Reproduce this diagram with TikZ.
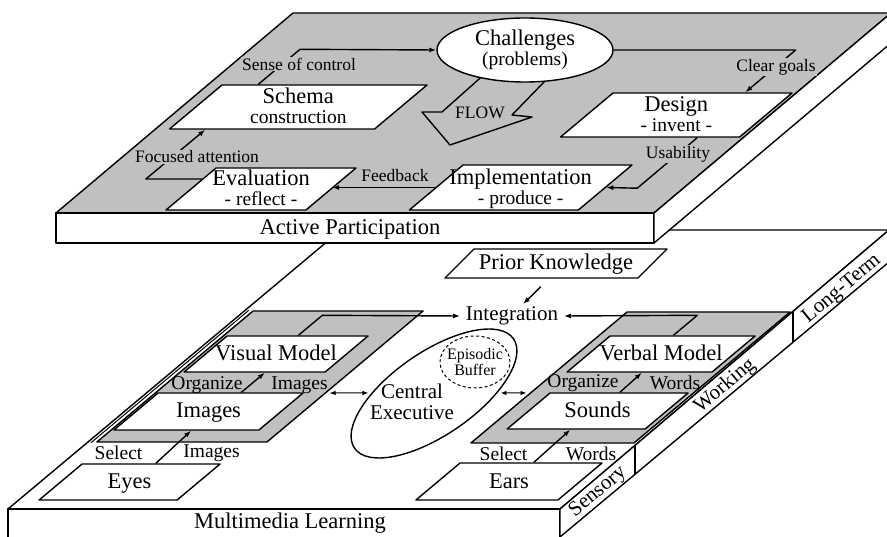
\documentclass[tikz,border=0pt]{standalone}
\usepackage{fontspec}
\setmainfont{Liberation Serif}
\usetikzlibrary{shapes.geometric,arrows.meta}

\definecolor{deck}{RGB}{192,192,192}
\newcommand\subline[1]{{\fontsize{19.5}{20}\selectfont #1}}
\newcommand\twoline[2]{\begin{tabular}[t]{@{}c@{}}#1\\\subline{#2}\end{tabular}}

\tikzset{
  bigtext/.style={font=\fontsize{22.5}{20}\selectfont},
  bodytext/.style={font=\fontsize{21}{21}\selectfont},
  midtext/.style={font=\fontsize{19.5}{20}\selectfont},
  smalltext/.style={font=\fontsize{17.5}{18}\selectfont},
  tinytext/.style={font=\fontsize{16}{16}\selectfont},
  plank/.style={trapezium, trapezium left angle=40, trapezium right angle=140,
    draw, fill=white, inner sep=0pt, bigtext},
  pane/.style={plank, fill=deck, text depth=0pt},
  link/.style={-{Latex[length=7pt,width=5pt]}},
  twoway/.style={{Latex[length=6pt,width=4.5pt]}-{Latex[length=6pt,width=4.5pt]},
    line width=1pt, shorten <=3pt, shorten >=3pt},
  onpane/.style={smalltext, fill=deck, inner sep=1pt},
  edgetext/.style={bodytext, rotate=40}
}

\begin{document}
\begin{tikzpicture}[x=1pt, y=-1pt, line width=1.4pt, line join=round]
  \useasboundingbox (0,0) rectangle (887,537);

  % lower platform
  \draw[fill=white] (8,509) -- (341,230) -- (889,230) -- (560,509) -- cycle;
  \draw[fill=white] (8,509) rectangle (560,538);
  \draw[fill=white] (560,509) -- (889,230) -- (889,262) -- (560,537) -- cycle;
  \draw (635,445.4) -- (635,474.3) (793,311.5) -- (793,342.2);
  \node[bigtext] (multi) at (290,523) {Multimedia Learning};
  \node[edgetext] (sensory) at (598,492) {Sensory};
  \node[edgetext] (working) at (725,386) {Working};
  \node[edgetext] (longterm) at (842,289) {Long-Term};

  % working memory panes
  \node[pane, text width=13.9pt, text height=131pt] (visplane) at (260,376.5) {};
  \node[pane, text width=6.9pt, text height=131pt] (audplane) at (630.5,377.5) {};
  \draw[line width=1pt] ([xshift=-4pt]visplane.bottom left corner)
    -- ([xshift=-4pt]visplane.top left corner);

  \node[plank, text height=24.5pt, text depth=11.5pt] (visual) at (276.1,354)
    {\makebox[98.1pt]{Visual Model}};
  \node[plank, text height=25pt, text depth=12pt] (images) at (208.5,411.5)
    {\makebox[100.9pt]{Images}};
  \node[plank, text height=24.5pt, text depth=11.5pt] (eyes) at (129.6,482)
    {\makebox[95.1pt]{Eyes}};
  \node[plank, text height=24.5pt, text depth=11.5pt] (verbal) at (661.1,354)
    {\makebox[102.1pt]{Verbal Model}};
  \node[plank, text height=24.5pt, text depth=11.5pt] (sounds) at (597.6,411)
    {\makebox[95.1pt]{Sounds}};
  \node[plank, text height=25pt, text depth=12pt] (ears) at (509,481.5)
    {\makebox[97.9pt]{Ears}};
  \node[plank, trapezium left angle=45, trapezium right angle=135,
    text height=21pt, text depth=8pt] (prior) at (556,263.5)
    {\makebox[164pt]{Prior Knowledge}};

  \node[midtext] (orgvis) at (207,385) {Organize};
  \node[midtext] (imgorg) at (299.5,385) {Images};
  \node[midtext] (selvis) at (118.5,453) {Select};
  \node[midtext] (imgsel) at (211.5,453) {Images};
  \node[midtext] (orgverb) at (583,383) {Organize};
  \node[midtext] (wordorg) at (675,383) {Words};
  \node[midtext] (selverb) at (503.5,454) {Select};
  \node[midtext] (wordsel) at (591,454) {Words};

  \node[draw, ellipse, rotate=34.5, minimum width=193, minimum height=83,
    inner sep=0pt] (cex) at (434,393.5) {};
  \node[bodytext, align=center] (central) at (412,402) {Central\\Executive};
  \node[draw, line width=1pt, dash pattern=on 3pt off 2.5pt, ellipse,
    minimum width=70, minimum height=52, inner xsep=-6pt, inner ysep=-4pt,
    tinytext, align=center] (buffer) at (475,362) {Episodic\\Buffer};
  \node[bodytext, inner xsep=5pt, inner ysep=2pt] (integ) at (512,316) {Integration};

  \draw[link] ([xshift=10pt]images.top side) -- ([xshift=11pt]visual.bottom side);
  \draw[link] ([xshift=4pt]eyes.top side) -- ([xshift=5.5pt]images.bottom side);
  \draw[link] (sounds.top side) -- ([xshift=3pt]verbal.bottom side);
  \draw[link] ([xshift=2pt]ears.top side) -- ([xshift=-5pt]sounds.bottom side);
  \draw[link] (visual.top side) -- ++(24,-20) -- (integ.west);
  \draw[link] ([xshift=-10pt]verbal.top side) -- ++(24,-20) -- (integ.east);
  \draw[link] ([yshift=-8pt]prior.bottom side) -- ([xshift=11pt]integ.north);
  \draw[twoway] ([xshift=-19.6pt,yshift=-16.5pt]visplane.east) -- (cex.145);
  \draw[twoway] (cex.-34.5) -- ([xshift=-18.4pt,yshift=-15.5pt]audplane.west);

  % upper platform
  \draw[fill=deck] (56,213) -- (293,13) -- (891,13) -- (654,213) -- cycle;
  \draw[fill=white] (56,213) rectangle (654,243);
  \draw[fill=white] (654,213) -- (891,13) -- (891,43) -- (654,243) -- cycle;
  \node[bigtext] (active) at (350,229) {Active Participation};

  \node[plank, text height=19pt, text depth=25pt] (schema) at (298.3,107)
    {\makebox[152.6pt]{\twoline{Schema}{construction}}};
  \node[plank, text height=18pt, text depth=24pt] (eval) at (261,189)
    {\makebox[89.9pt]{\twoline{Evaluation}{- reflect -}}};
  \node[plank, text height=19.5pt, text depth=25.5pt] (impl) at (520.7,187.5)
    {\makebox[115.4pt]{\twoline{Implementation}{- produce -}}};
  \node[plank, text height=19pt, text depth=25pt] (design) at (676.3,115)
    {\makebox[126.6pt]{\twoline{Design}{- invent -}}};

  % flow arrow
  \draw (482,76.4) -- (442,112) -- (422,112) -- (450,145) -- (532,117)
    -- (512,115) -- (546,80);
  \node[smalltext] (flow) at (480,113) {FLOW};
  \node[draw, fill=white, ellipse, minimum width=176, minimum height=64,
    inner sep=0pt, align=center, bigtext] (chal) at (525,50)
    {Challenges\\\subline{(problems)}};

  \draw[link] ([xshift=-67pt]schema.top side) -- ++(41.7,-35) -- (chal.west);
  \node[onpane] (sense) at (299,64) {Sense of control};
  \draw[link] (chal.east) -- ++(182,0) -- ([xshift=42pt]design.top side);
  \node[onpane] (goals) at (776,67) {Clear goals};
  \draw[link] ([xshift=48pt]design.bottom side) -- ++(-60,50.5) -- (impl.east);
  \node[onpane] (usab) at (678,154) {Usability};
  \draw[link] (impl.west) -- (impl.west -| eval.east);
  \node[smalltext] (fb) at (395,176) {Feedback};
  \draw[link] ([xshift=11.9pt,yshift=10pt]eval.west) -- ++(-56,0)
    -- ([xshift=-66pt]schema.bottom side);
  \node[onpane] (focus) at (197,157) {Focused attention};
\end{tikzpicture}
\end{document}
